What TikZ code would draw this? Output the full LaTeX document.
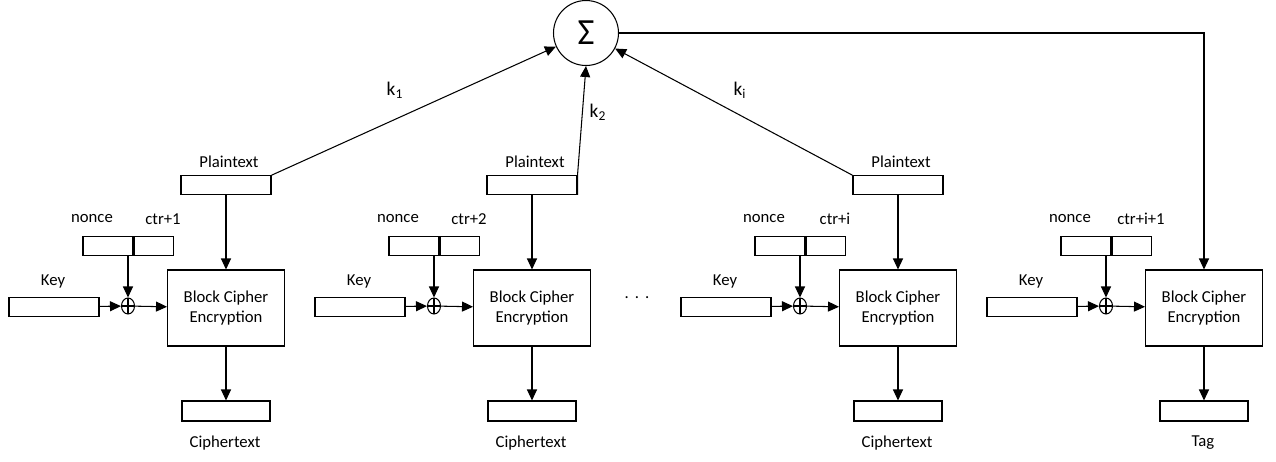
\documentclass[tikz,border=0pt]{standalone}
\usepackage{fontspec}
\setmainfont{Carlito}
\usetikzlibrary{arrows.meta,shapes.geometric}

\begin{document}
\begin{tikzpicture}[x=0.02cm, y=-0.02cm, line width=0.6pt,
    >={Triangle[length=2.2mm,width=2mm]},
    every node/.style={font=\fontsize{9.5}{11.5}\selectfont},
    bar/.style={draw, minimum width=1.8cm, minimum height=0.37cm, inner sep=0},
    blk/.style={draw, minimum width=2.34cm, minimum height=1.52cm, align=center},
    xr/.style={draw, ellipse, minimum width=0.26cm, minimum height=0.32cm, inner sep=0,
        path picture={\draw (path picture bounding box.north) -- (path picture bounding box.south)
            (path picture bounding box.west) -- (path picture bounding box.east);}}]
\useasboundingbox (0,0) rectangle (1276,461);

    \node [draw, circle, minimum size=1.3cm, inner sep=0, font=\fontsize{21}{21}\selectfont] (sig) at (586,33) {Σ};

    % first block
    \node [bar] (key1) at (54,307) {};
    \node (keyl1) at (53,281) {Key};
    \node [xr] (xor1) at (128,306) {};
    \node [bar, minimum width=1cm] (nc1) at (108,246) {};
    \node [bar, minimum width=0.78cm, anchor=west] (ct1) at (nc1.east) {};
    \node (ncl1) at (92,219) {nonce};
    \node (ctl1) at (163,219) {ctr+1};
    \node [blk] (blk1) at (226,308) {Block Cipher\\Encryption};
    \node [bar] (pt1) at (226,185) {};
    \node (ptl1) at (229,162) {Plaintext};
    \node [bar, minimum width=1.76cm, minimum height=0.4cm] (out1) at (226,411) {};
    \node (outl1) at (225,443) {Ciphertext};

    % second block
    \node [bar] (key2) at (360,307) {};
    \node (keyl2) at (359,281) {Key};
    \node [xr] (xor2) at (434,306) {};
    \node [bar, minimum width=1cm] (nc2) at (414,246) {};
    \node [bar, minimum width=0.78cm, anchor=west] (ct2) at (nc2.east) {};
    \node (ncl2) at (398,219) {nonce};
    \node (ctl2) at (469,219) {ctr+2};
    \node [blk] (blk2) at (532,308) {Block Cipher\\Encryption};
    \node [bar] (pt2) at (532,185) {};
    \node (ptl2) at (535,162) {Plaintext};
    \node [bar, minimum width=1.76cm, minimum height=0.4cm] (out2) at (532,411) {};
    \node (outl2) at (531,443) {Ciphertext};

    \node (dots) at (637,298) {.\hspace{3.5pt}.\hspace{3.5pt}.};

    % i-th block
    \node [bar] (key3) at (726,307) {};
    \node (keyl3) at (725,281) {Key};
    \node [xr] (xor3) at (800,306) {};
    \node [bar, minimum width=1cm] (nc3) at (780,246) {};
    \node [bar, minimum width=0.78cm, anchor=west] (ct3) at (nc3.east) {};
    \node (ncl3) at (764,219) {nonce};
    \node (ctl3) at (835,219) {ctr+i};
    \node [blk] (blk3) at (898,308) {Block Cipher\\Encryption};
    \node [bar] (pt3) at (898,185) {};
    \node (ptl3) at (901,162) {Plaintext};
    \node [bar, minimum width=1.76cm, minimum height=0.4cm] (out3) at (898,411) {};
    \node (outl3) at (897,443) {Ciphertext};

    % tag block
    \node [bar] (key4) at (1032,307) {};
    \node (keyl4) at (1031,281) {Key};
    \node [xr] (xor4) at (1106,306) {};
    \node [bar, minimum width=1cm] (nc4) at (1086,246) {};
    \node [bar, minimum width=0.78cm, anchor=west] (ct4) at (nc4.east) {};
    \node (ncl4) at (1070,219) {nonce};
    \node (ctl4) at (1141,219) {ctr+i+1};
    \node [blk] (blk4) at (1204,308) {Block Cipher\\Encryption};
    \node [bar, minimum width=1.76cm, minimum height=0.4cm] (out4) at (1204,411) {};
    \node (outl4) at (1203,443) {Tag};

    \node [font=\fontsize{11}{13}\selectfont] (k1) at (395,90) {k\textsubscript{1}};
    \node [font=\fontsize{11}{13}\selectfont] (k2) at (598,112) {k\textsubscript{2}};
    \node [font=\fontsize{11}{13}\selectfont] (ki) at (740,90) {k\textsubscript{i}};

    \draw [->] (key1) -- (xor1);
    \draw [->] (xor1 |- nc1.south) -- (xor1);
    \draw [->] (xor1) -- (blk1);
    \draw [->] (pt1) -- (blk1);
    \draw [->] (blk1) -- (out1);

    \draw [->] (key2) -- (xor2);
    \draw [->] (xor2 |- nc2.south) -- (xor2);
    \draw [->] (xor2) -- (blk2);
    \draw [->] (pt2) -- (blk2);
    \draw [->] (blk2) -- (out2);

    \draw [->] (key3) -- (xor3);
    \draw [->] (xor3 |- nc3.south) -- (xor3);
    \draw [->] (xor3) -- (blk3);
    \draw [->] (pt3) -- (blk3);
    \draw [->] (blk3) -- (out3);

    \draw [->] (key4) -- (xor4);
    \draw [->] (xor4 |- nc4.south) -- (xor4);
    \draw [->] (xor4) -- (blk4);
    \draw [->] (blk4) -- (out4);

    \draw [->] (pt1.north east) -- (sig);
    \draw [->] (pt2.south east) -- (pt2.north east) -- (sig.south);
    \draw [->] (pt3.north west) -- (sig);
    \draw [->] (sig.east) -| (blk4.north);

\end{tikzpicture}
\end{document}
